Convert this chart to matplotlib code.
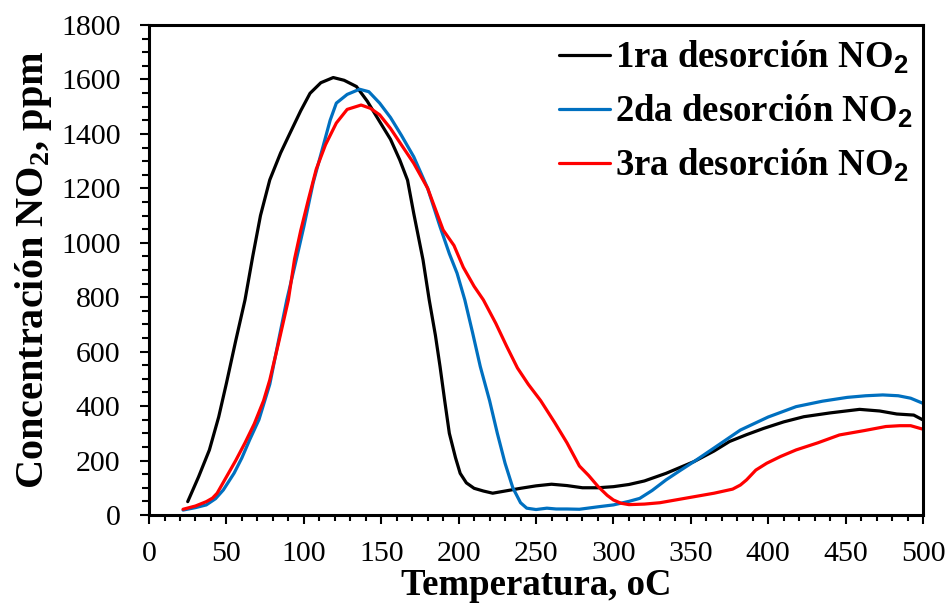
import matplotlib
matplotlib.use('Agg')
import matplotlib.pyplot as plt
from matplotlib.ticker import MultipleLocator

plt.rcParams['font.family'] = 'Liberation Serif'
plt.rcParams['mathtext.fontset'] = 'custom'
plt.rcParams['mathtext.rm'] = 'Liberation Serif:bold'
plt.rcParams['mathtext.sf'] = 'Liberation Sans:bold'

# 1ra desorcion
t1 = [25, 32, 39, 45, 50, 56, 62, 67, 72, 78, 85, 91, 98, 104, 111, 119, 126, 134, 141, 149,
      156, 162, 167, 171, 177, 181, 185, 188, 191, 194, 198, 201, 205, 210, 216, 222, 230, 240, 250, 260,
      270, 280, 290, 300, 310, 320, 334, 352, 365, 375, 386, 397, 410, 423, 440, 459, 472, 483, 494, 500]
c1 = [49, 140, 239, 360, 484, 640, 790, 950, 1100, 1231, 1330, 1402, 1485, 1549, 1588, 1607, 1597, 1574, 1520, 1445,
      1380, 1304, 1230, 1108, 937, 790, 660, 545, 420, 300, 210, 153, 118, 98, 88, 80, 88, 98, 107, 113,
      108, 100, 100, 104, 112, 125, 153, 196, 235, 270, 295, 318, 342, 361, 375, 388, 382, 371, 367, 349]

# 2da desorcion
t2 = [22, 30, 37, 43, 48, 55, 60, 65, 71, 78, 84, 89, 95, 100, 106, 113, 117, 121, 128, 136,
      142, 149, 156, 163, 171, 180, 188, 194, 199, 204, 209, 214, 220, 225, 230, 235, 240, 244, 250, 257,
      263, 270, 278, 290, 300, 310, 317, 325, 334, 343, 352, 366, 382, 400, 418, 435, 451, 463, 474, 484,
      492, 500]
c2 = [18, 27, 37, 60, 92, 154, 210, 276, 350, 480, 650, 790, 935, 1059, 1220, 1366, 1450, 1513, 1545, 1564,
      1555, 1513, 1460, 1395, 1316, 1200, 1059, 960, 888, 790, 670, 545, 420, 300, 190, 100, 45, 25, 20, 25,
      22, 22, 21, 30, 37, 50, 61, 90, 129, 163, 196, 250, 312, 360, 398, 418, 432, 438, 441, 438,
      429, 410]

# 3ra desorcion
t3 = [22, 30, 37, 41, 44, 50, 56, 62, 68, 74, 78, 84, 90, 94, 98, 103, 108, 114, 121, 128,
      137, 143, 149, 156, 163, 171, 180, 190, 197, 203, 210, 216, 224, 231, 238, 245, 253, 262, 270, 278,
      284, 290, 296, 300, 305, 310, 320, 330, 340, 352, 365, 377, 382, 386, 392, 399, 408, 418, 432, 446,
      462, 476, 485, 492, 500]
c3 = [21, 33, 49, 62, 80, 140, 200, 265, 335, 420, 496, 640, 790, 940, 1045, 1160, 1270, 1360, 1440, 1490,
      1506, 1494, 1470, 1420, 1360, 1292, 1200, 1047, 990, 910, 840, 790, 704, 620, 540, 480, 420, 340, 265, 180,
      145, 105, 72, 55, 43, 38, 40, 45, 55, 67, 80, 95, 110, 129, 165, 190, 215, 239, 265, 294,
      310, 325, 328, 328, 315]

labels = ['1ra desorción NO$_\\mathsf{2}$', '2da desorción NO$_\\mathsf{2}$', '3ra desorción NO$_\\mathsf{2}$']
colors = ['#000000', '#0070C0', '#FF0000']

fig = plt.figure(figsize=(9.51, 6.07), dpi=100)
ax = fig.add_axes([0.1567, 0.1516, 0.8139, 0.8072])

for t, c, lab, col in zip([t1, t2, t3], [c1, c2, c3], labels, colors):
    ax.plot(t, c, color=col, lw=2.3, label=lab, solid_capstyle='round', solid_joinstyle='round')

ax.set_xlim(0, 500)
ax.set_ylim(0, 1800)
ax.xaxis.set_major_locator(MultipleLocator(50))
ax.xaxis.set_minor_locator(MultipleLocator(10))
ax.yaxis.set_major_locator(MultipleLocator(200))
ax.yaxis.set_minor_locator(MultipleLocator(50))
ax.tick_params(which='major', direction='out', length=6.5, width=1.5, labelsize=21.5, pad=12)
ax.tick_params(which='minor', direction='out', length=4, width=1.5)
ax.tick_params(axis='y', which='major', pad=14)
ax.tick_params(axis='y', which='minor', length=5)
for s in ax.spines.values():
    s.set_linewidth(2.2)

ax.set_xlabel('Temperatura, oC', fontsize=26.5, fontweight='bold', labelpad=1)
ax.set_ylabel('Concentración NO$_2$, ppm', fontsize=29, fontweight='bold', labelpad=5)

leg = ax.legend(loc='upper right', bbox_to_anchor=(1.019, 1.025), frameon=False,
                prop={'size': 26.5, 'weight': 'bold'}, handlelength=1.4, handletextpad=0.12,
                labelspacing=0.46, borderaxespad=0.3)

fig.savefig('out.png', dpi=100)
